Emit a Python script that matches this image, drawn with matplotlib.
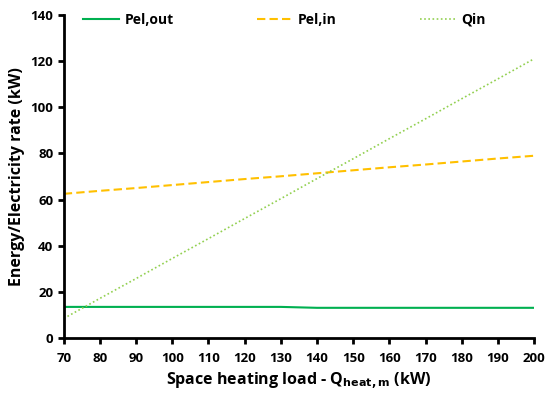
import matplotlib.pyplot as plt

plt.rcParams['font.family'] = ['Open Sans', 'DejaVu Sans']
plt.rcParams['font.weight'] = 'bold'

load = [70, 80, 90, 100, 110, 120, 130, 140, 150, 160, 170, 180, 190, 200]
pel_out = [13.5, 13.5, 13.5, 13.5, 13.5, 13.5, 13.5, 13.1, 13.1, 13.1, 13.1, 13.1, 13.1, 13.1]
pel_in = [62.5, 63.8, 65.0, 66.3, 67.6, 68.9, 70.1, 71.4, 72.7, 74.0, 75.2, 76.5, 77.8, 79.0]
q_in = [8.5, 17.2, 25.8, 34.5, 43.1, 51.8, 60.4, 69.1, 77.7, 86.4, 95.0, 103.7, 112.3, 121.0]

fig = plt.figure(figsize=(5.5, 3.94), dpi=100)
ax = fig.add_axes([0.116, 0.142, 0.855, 0.82])

ax.plot(load, pel_out, color='#00B050', lw=1.5, label='Pel,out')
ax.plot(load, pel_in, color='#FFC000', lw=1.5, ls=(0, (4, 2)), label='Pel,in')
ax.plot(load, q_in, color='#92D050', lw=1.2, ls=(0, (1, 1.5)), label='Qin')

ax.set_xlim(70, 200)
ax.set_ylim(0, 140)
ax.set_xticks(range(70, 201, 10))
ax.set_yticks(range(0, 141, 20))

for s in ['top', 'right']:
    ax.spines[s].set_visible(False)
for s in ['left', 'bottom']:
    ax.spines[s].set_linewidth(2)
ax.tick_params(width=2, length=4, labelsize=9.5)
ax.tick_params(axis='x', pad=6)

ax.set_xlabel('Space heating load - Q$_{\\mathbf{heat,m}}$ (kW)', fontsize=11.5, fontweight='bold')
ax.set_ylabel('Energy/Electricity rate (kW)', fontsize=11.5, fontweight='bold')

ax.legend(loc='upper left', bbox_to_anchor=(0.015, 1.045), ncol=3, frameon=False,
          fontsize=10, columnspacing=6.0, handlelength=2.6, handletextpad=0.35)

fig.savefig('out.png', dpi=100)
